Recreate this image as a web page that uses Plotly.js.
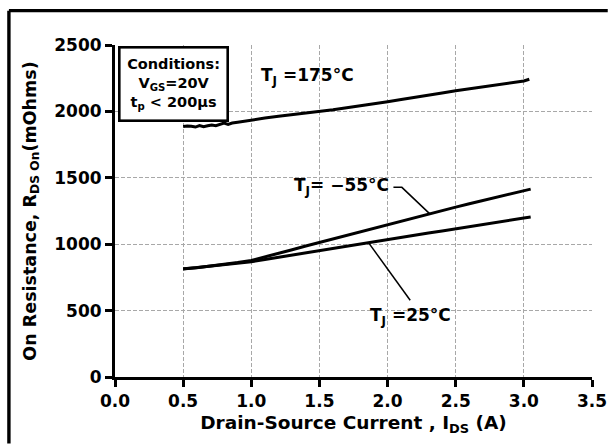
<!DOCTYPE html>
<html>
<head>
<meta charset="utf-8">
<script src="https://cdn.plot.ly/plotly-3.0.1.min.js"></script>
<style>
  html, body { margin: 0; padding: 0; background: #ffffff; overflow: hidden; }
  #chart { width: 608px; height: 444px; }
</style>
</head>
<body>
<div id="chart"></div>
<script>
// Drain-source current (A) and on-resistance (mOhm) for each junction temperature
const I_175 = [0.50, 0.53, 0.56, 0.59, 0.62, 0.65, 0.68, 0.71, 0.74, 0.77, 0.80, 0.83, 0.86, 0.90, 0.95,
               1.00, 1.10, 1.20, 1.30, 1.40, 1.50, 1.60, 1.70, 1.80, 1.90, 2.00, 2.10, 2.20, 2.30,
               2.40, 2.50, 2.60, 2.70, 2.80, 2.90, 3.00, 3.04];
const R_175 = [1886, 1890, 1888, 1882, 1893, 1884, 1892, 1898, 1893, 1904, 1912, 1902, 1912, 1918, 1926,
               1938, 1950, 1963, 1975, 1986, 1998, 2012, 2028, 2042, 2058, 2073, 2090, 2105, 2122,
               2138, 2156, 2170, 2186, 2200, 2214, 2229, 2242];

const I_M55 = [0.50, 0.60, 0.70, 0.80, 0.90, 1.00, 1.10, 1.20, 1.30, 1.40, 1.50, 1.60, 1.70, 1.80,
               1.90, 2.00, 2.10, 2.20, 2.30, 2.40, 2.50, 2.60, 2.70, 2.80, 2.90, 3.00, 3.05];
const R_M55 = [815, 822, 836, 848, 862, 878, 903, 930, 958, 986, 1013, 1040, 1068, 1095,
               1122, 1149, 1175, 1202, 1228, 1253, 1279, 1305, 1330, 1356, 1381, 1405, 1415];

const I_25 = [0.50, 0.60, 0.70, 0.80, 0.90, 1.00, 1.10, 1.20, 1.30, 1.40, 1.50, 1.60, 1.70, 1.80,
              1.90, 2.00, 2.10, 2.20, 2.30, 2.40, 2.50, 2.60, 2.70, 2.80, 2.90, 3.00, 3.05];
const R_25 = [813, 823, 833, 845, 856, 868, 885, 902, 919, 936, 953, 970, 986, 1002,
              1019, 1035, 1051, 1068, 1084, 1100, 1117, 1133, 1149, 1165, 1181, 1197, 1204];

// Axis ticks
const X_TICKS = [0.0, 0.5, 1.0, 1.5, 2.0, 2.5, 3.0, 3.5];
const X_TICK_TEXT = ['0.0', '0.5', '1.0', '1.5', '2.0', '2.5', '3.0', '3.5'];
const Y_TICKS = [0, 500, 1000, 1500, 2000, 2500];

// Text labels
const LABEL_175 = 'T<sub>J</sub> =175°C';
const LABEL_M55 = 'T<sub>J</sub>= −55°C';
const LABEL_25 = 'T<sub>J</sub> =25°C';
const CONDITIONS = 'Conditions:<br>V<sub>GS</sub>=20V<br>t<sub>p</sub> &lt; 200µs';

// Linear interpolation along a curve, used to land the leader lines on it
function interp(xs, ys, x) {
  for (let i = 0; i < xs.length - 1; i++) {
    if (x >= xs[i] && x <= xs[i + 1]) {
      const t = (x - xs[i]) / (xs[i + 1] - xs[i]);
      return ys[i] + t * (ys[i + 1] - ys[i]);
    }
  }
  return ys[ys.length - 1];
}

const FONT = 'DejaVu Sans, Arial, sans-serif';
const lineStyle = { color: '#000000', width: 3 };

const traces = [
  { x: I_175, y: R_175, mode: 'lines', line: lineStyle, name: '175', hoverinfo: 'skip' },
  { x: I_M55, y: R_M55, mode: 'lines', line: lineStyle, name: '-55', hoverinfo: 'skip' },
  { x: I_25, y: R_25, mode: 'lines', line: lineStyle, name: '25', hoverinfo: 'skip' }
];

// Leader anchor points on the curves
const m55LeadX = 2.308;
const m55LeadY = interp(I_M55, R_M55, m55LeadX);
const r25LeadX = 1.86;
const r25LeadY = interp(I_25, R_25, r25LeadX);

const shapes = [
  // outer frame: left and top edges, kept inside the figure
  { type: 'line', xref: 'paper', yref: 'paper', x0: -0.2224, x1: -0.2224, y0: -0.2, y1: 1.1035,
    line: { color: '#000', width: 3.4 } },
  { type: 'line', xref: 'paper', yref: 'paper', x0: -0.2224, x1: 1.033, y0: 1.1035, y1: 1.1035,
    line: { color: '#000', width: 3.4 } },
  // leader for -55 °C: short horizontal stub then a diagonal to the curve
  { type: 'path', xref: 'x', yref: 'y',
    path: 'M 2.043,1428 L 2.105,1428 L ' + m55LeadX + ',' + m55LeadY,
    line: { color: '#000', width: 1.5 } },
  // leader for 25 °C
  { type: 'line', xref: 'x', yref: 'y', x0: r25LeadX, y0: r25LeadY, x1: 2.166, y1: 578,
    line: { color: '#000', width: 1.5 } }
];

const annotations = [
  { xref: 'x', yref: 'y', x: 1.413, y: 2262, text: LABEL_175, showarrow: false,
    xanchor: 'center', yanchor: 'middle', font: { family: FONT, size: 17, color: '#000', weight: 'bold' } },
  { xref: 'x', yref: 'y', x: 1.663, y: 1438, text: LABEL_M55, showarrow: false,
    xanchor: 'center', yanchor: 'middle', font: { family: FONT, size: 17, color: '#000', weight: 'bold' } },
  { xref: 'x', yref: 'y', x: 2.170, y: 458, text: LABEL_25, showarrow: false,
    xanchor: 'center', yanchor: 'middle', font: { family: FONT, size: 17, color: '#000', weight: 'bold' } },
  { xref: 'paper', yref: 'paper', x: 0.0063, y: 0.998, text: CONDITIONS, showarrow: false,
    xanchor: 'left', yanchor: 'top', align: 'center', width: 104, height: 69,
    bgcolor: '#ffffff', bordercolor: '#000000', borderwidth: 2.6, borderpad: 1,
    font: { family: FONT, size: 14.5, color: '#000', weight: 'bold' } }
];

const axisCommon = {
  showline: true, linecolor: '#000', linewidth: 3,
  ticks: 'outside', ticklen: 7, tickwidth: 3, tickcolor: '#000',
  showgrid: true, gridcolor: '#a8a8a8', gridwidth: 1, griddash: 'dash',
  zeroline: false,
  tickfont: { family: FONT, size: 17, color: '#000', weight: 'bold' }
};

const layout = {
  width: 608, height: 444,
  margin: { l: 115, r: 16, t: 45, b: 67 },
  paper_bgcolor: '#ffffff', plot_bgcolor: '#ffffff',
  showlegend: false,
  font: { family: FONT, color: '#000' },
  xaxis: Object.assign({}, axisCommon, {
    range: [0, 3.5], tickmode: 'array', tickvals: X_TICKS, ticktext: X_TICK_TEXT,
    title: { text: 'Drain-Source Current , I<sub>DS</sub> (A)', standoff: 6,
             font: { family: FONT, size: 18.5, color: '#000', weight: 'bold' } }
  }),
  yaxis: Object.assign({}, axisCommon, {
    range: [0, 2500], tickmode: 'array', tickvals: Y_TICKS,
    title: { text: 'On Resistance, R<sub>DS On</sub>(mOhms)', standoff: 14,
             font: { family: FONT, size: 17.5, color: '#000', weight: 'bold' } }
  }),
  shapes: shapes,
  annotations: annotations
};

Plotly.newPlot('chart', traces, layout, { staticPlot: true, displayModeBar: false }).then(function (gd) {
  // finer dash pattern for the grid
  gd.querySelectorAll('.xgrid, .ygrid').forEach(function (el) {
    el.style.strokeDasharray = '4px,2px';
  });
});
</script>
</body>
</html>
